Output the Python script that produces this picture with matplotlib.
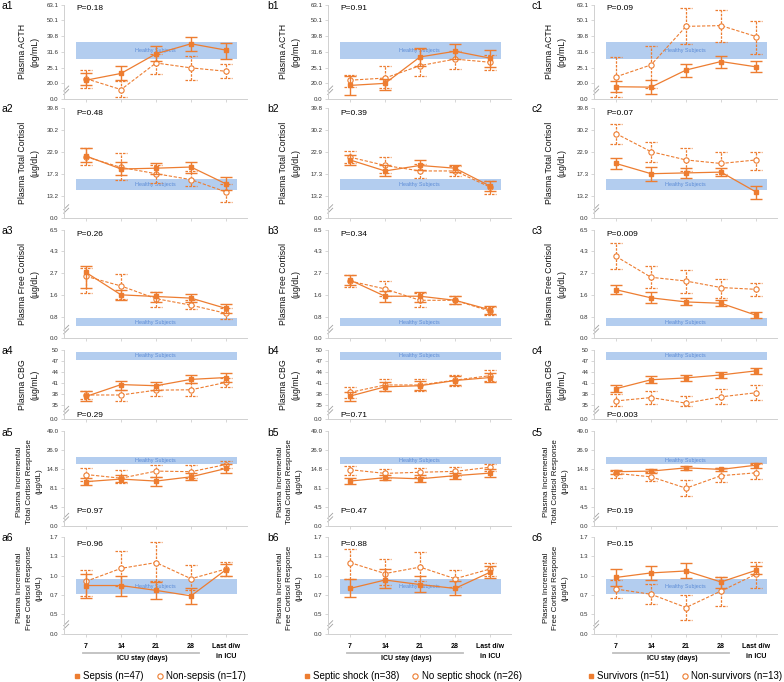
import numpy as np
import matplotlib
matplotlib.use("Agg")
import matplotlib.pyplot as plt
from matplotlib.lines import Line2D

plt.rcParams["font.family"] = ["Liberation Sans", "DejaVu Sans"]

# =========================
# 1. AXES DEFINITIONS
# =========================
days = ["7", "14", "21", "28", "Last d/w\nin ICU"]

row_ticks = [
    [0.0, 20.0, 25.1, 31.6, 39.8, 50.1, 63.1],
    [0.0, 13.2, 17.3, 22.9, 30.2, 39.8],
    [0.0, 0.8, 1.6, 2.7, 4.3, 6.5],
    [0.0, 35, 38, 41, 44, 47, 50],
    [0.0, 4.5, 8.1, 14.8, 26.9, 49.0],
    [0.0, 0.5, 0.7, 1.0, 1.3, 1.7],
]
row_tick_labels = [
    ["0.0", "20.0", "25.1", "31.6", "39.8", "50.1", "63.1"],
    ["0.0", "13.2", "17.3", "22.9", "30.2", "39.8"],
    ["0.0", "0.8", "1.6", "2.7", "4.3", "6.5"],
    ["0.0", "35", "38", "41", "44", "47", "50"],
    ["0.0", "4.5", "8.1", "14.8", "26.9", "49.0"],
    ["0.0", "0.5", "0.7", "1.0", "1.3", "1.7"],
]
row_tick_pos = [
    [0, 1, 2, 3, 4, 5, 6],
    [0, 1, 2, 3, 4, 5],
    [0, 1, 2, 3, 4, 5],
    [0, 1.25, 2.25, 3.25, 4.25, 5.25, 6.25],
    [0, 1, 2, 3, 4, 5],
    [0, 1, 2, 3, 4, 5],
]
row_ylabels = [
    "Plasma ACTH\n(pg/mL)",
    "Plasma Total Cortisol\n(µg/dL)",
    "Plasma Free Cortisol\n(µg/dL)",
    "Plasma CBG\n(µg/mL)",
    "Plasma Incremental\nTotal Cortisol Response\n(µg/dL)",
    "Plasma Incremental\nFree Cortisol Response\n(µg/dL)",
]
healthy_lo = [28.8, 14.2, 0.44, 47.3, 17.9, 0.72]
healthy_hi = [36.7, 16.4, 0.76, 49.5, 22.5, 0.95]

p_values = {
    "a": ["0.18", "0.48", "0.26", "0.29", "0.97", "0.96"],
    "b": ["0.91", "0.39", "0.34", "0.71", "0.47", "0.88"],
    "c": ["0.09", "0.07", "0.009", "0.003", "0.19", "0.15"],
}
group_labels = {
    "a": ["Sepsis (n=47)", "Non-sepsis (n=17)"],
    "b": ["Septic shock (n=38)", "No septic shock (n=26)"],
    "c": ["Survivors (n=51)", "Non-survivors (n=13)"],
}

# =========================
# 2. DATA (mean, upper, lower) - solid group / open group
# =========================
# column a: sepsis vs non-sepsis
a1_s = [21.0, 23.2, 30.8, 35.8, 32.5]
a1_s_up = [23.2, 25.7, 34.6, 39.3, 36.3]
a1_s_dn = [17.3, 21.0, 27.7, 32.3, 28.8]
a1_n = [21.5, 12.0, 27.0, 25.0, 23.9]
a1_n_up = [24.3, 20.7, 30.9, 29.8, 26.6]
a1_n_dn = [13.8, 2.2, 23.0, 21.2, 21.6]

a2_s = [21.8, 18.5, 18.7, 19.0, 15.4]
a2_s_up = [24.0, 20.2, 20.0, 20.2, 16.7]
a2_s_dn = [20.2, 17.0, 17.3, 17.5, 14.2]
a2_n = [21.6, 18.9, 17.3, 16.2, 13.9]
a2_n_up = [24.2, 22.6, 19.5, 18.1, 15.3]
a2_n_dn = [19.4, 16.1, 15.6, 15.1, 9.7]

a3_s = [2.75, 1.60, 1.54, 1.48, 1.10]
a3_s_up = [3.19, 1.84, 1.76, 1.64, 1.28]
a3_s_dn = [1.97, 1.40, 1.34, 1.34, 0.92]
a3_n = [2.54, 2.05, 1.46, 1.22, 0.92]
a3_n_up = [3.07, 2.65, 1.73, 1.40, 1.10]
a3_n_dn = [1.70, 1.46, 1.16, 1.07, 0.71]

a4_s = [37.4, 40.6, 40.3, 42.0, 42.5]
a4_s_up = [39.0, 41.7, 41.4, 43.2, 43.6]
a4_s_dn = [36.3, 39.2, 39.1, 41.0, 41.4]
a4_n = [37.8, 37.8, 39.1, 39.2, 41.2]
a4_n_up = [39.0, 39.2, 40.6, 41.0, 42.5]
a4_n_dn = [36.7, 36.2, 37.4, 37.6, 39.9]

a5_s = [10.4, 11.3, 10.6, 12.1, 15.2]
a5_s_up = [11.8, 12.7, 12.1, 13.5, 18.3]
a5_s_dn = [9.3, 10.1, 8.9, 10.8, 13.6]
a5_n = [12.9, 11.6, 14.1, 13.9, 17.7]
a5_n_up = [15.8, 14.4, 17.1, 17.1, 19.8]
a5_n_dn = [10.6, 9.8, 12.1, 11.6, 15.6]

a6_s = [0.845, 0.845, 0.77, 0.69, 1.09]
a6_s_up = [1.03, 0.99, 0.90, 0.81, 1.18]
a6_s_dn = [0.67, 0.69, 0.66, 0.61, 0.99]
a6_n = [0.91, 1.11, 1.20, 0.95, 1.10]
a6_n_up = [1.09, 1.40, 1.60, 1.17, 1.21]
a6_n_dn = [0.69, 0.83, 0.91, 0.78, 1.00]

# column b: septic shock vs no septic shock
b1_s = [17.3, 19.9, 29.5, 31.9, 29.0]
b1_s_up = [22.3, 21.5, 33.7, 35.8, 32.5]
b1_s_dn = [5.3, 12.0, 25.9, 28.6, 25.2]
b1_n = [21.0, 21.7, 25.9, 28.6, 27.3]
b1_n_up = [22.6, 25.6, 33.3, 32.3, 30.1]
b1_n_dn = [15.6, 14.2, 22.3, 24.5, 24.2]

b2_s = [20.8, 18.0, 19.4, 18.7, 15.0]
b2_s_up = [22.0, 19.6, 20.8, 19.6, 16.0]
b2_s_dn = [19.6, 16.8, 18.2, 17.8, 14.0]
b2_n = [21.5, 19.4, 18.0, 18.0, 14.8]
b2_n_up = [23.0, 21.5, 19.8, 19.2, 16.0]
b2_n_dn = [20.0, 17.6, 16.5, 16.8, 13.5]

b3_s = [2.35, 1.55, 1.55, 1.40, 1.05]
b3_s_up = [2.60, 1.80, 1.75, 1.55, 1.20]
b3_s_dn = [2.10, 1.35, 1.35, 1.25, 0.90]
b3_n = [2.30, 1.90, 1.40, 1.40, 1.00]
b3_n_up = [2.60, 2.30, 1.70, 1.55, 1.15]
b3_n_dn = [2.00, 1.55, 1.15, 1.25, 0.85]

b4_s = [37.5, 40.0, 40.3, 41.7, 42.5]
b4_s_up = [38.7, 41.2, 41.5, 42.9, 43.7]
b4_s_dn = [36.3, 38.8, 39.1, 40.5, 41.3]
b4_n = [38.5, 40.5, 40.5, 41.8, 43.0]
b4_n_up = [40.0, 42.0, 42.0, 43.3, 44.5]
b4_n_dn = [37.0, 39.0, 39.0, 40.3, 41.5]

b5_s = [10.6, 11.8, 11.4, 12.5, 13.4]
b5_s_up = [11.6, 12.8, 12.6, 13.6, 14.8]
b5_s_dn = [9.7, 10.9, 10.3, 11.5, 12.2]
b5_n = [14.6, 13.3, 13.7, 14.0, 16.0]
b5_n_up = [16.5, 15.0, 15.8, 16.0, 18.0]
b5_n_dn = [12.8, 11.8, 11.9, 12.3, 14.2]

b6_s = [0.80, 0.93, 0.86, 0.80, 1.05]
b6_s_up = [0.95, 1.10, 1.00, 0.92, 1.15]
b6_s_dn = [0.68, 0.80, 0.74, 0.70, 0.96]
b6_n = [1.20, 1.03, 1.13, 0.95, 1.10]
b6_n_up = [1.45, 1.25, 1.38, 1.08, 1.20]
b6_n_dn = [0.95, 0.85, 0.92, 0.82, 1.00]

# column c: survivors vs non-survivors
c1_s = [15.6, 15.1, 24.3, 27.6, 25.4]
c1_s_up = [20.9, 21.0, 26.6, 29.8, 27.9]
c1_s_dn = [8.9, 6.7, 22.1, 25.0, 23.6]
c1_n = [22.1, 26.2, 46.2, 46.7, 39.6]
c1_n_up = [29.4, 34.6, 60.1, 58.8, 50.0]
c1_n_dn = [3.1, 14.2, 35.8, 36.6, 30.8]

c2_s = [19.9, 17.3, 17.5, 17.7, 13.9]
c2_s_up = [21.2, 19.0, 18.7, 18.7, 15.0]
c2_s_dn = [18.5, 16.0, 16.5, 16.8, 11.5]
c2_n = [28.9, 22.9, 20.8, 19.9, 20.8]
c2_n_up = [32.8, 26.1, 24.2, 22.8, 22.8]
c2_n_dn = [25.5, 20.4, 18.1, 17.3, 18.2]

c3_s = [1.86, 1.49, 1.34, 1.29, 0.85]
c3_s_up = [2.09, 1.73, 1.48, 1.40, 0.98]
c3_s_dn = [1.65, 1.30, 1.22, 1.18, 0.73]
c3_n = [3.93, 2.49, 2.30, 1.97, 1.88]
c3_n_up = [5.20, 3.19, 2.95, 2.41, 2.20]
c3_n_dn = [2.99, 1.94, 1.68, 1.49, 1.55]

c4_s = [39.5, 41.9, 42.4, 43.2, 44.3]
c4_s_up = [40.5, 42.8, 43.3, 44.1, 45.1]
c4_s_dn = [38.5, 41.0, 41.5, 42.3, 43.5]
c4_n = [36.2, 37.1, 35.6, 37.3, 38.4]
c4_n_up = [38.2, 39.0, 37.6, 39.3, 40.6]
c4_n_dn = [34.4, 35.4, 33.8, 35.5, 36.4]

c5_s = [13.9, 14.1, 15.6, 14.7, 17.3]
c5_s_up = [14.4, 14.9, 16.8, 15.8, 18.8]
c5_s_dn = [13.0, 13.4, 14.4, 14.0, 15.8]
c5_n = [13.3, 12.1, 8.1, 12.5, 13.5]
c5_n_up = [14.1, 13.9, 11.0, 15.2, 18.3]
c5_n_dn = [11.8, 10.6, 6.6, 10.2, 11.2]

c6_s = [0.97, 1.04, 1.07, 0.90, 1.08]
c6_s_up = [1.10, 1.15, 1.20, 0.97, 1.14]
c6_s_dn = [0.845, 0.93, 0.96, 0.81, 1.03]
c6_n = [0.79, 0.71, 0.57, 0.76, 1.02]
c6_n_up = [0.93, 0.87, 0.70, 0.97, 1.21]
c6_n_dn = [0.67, 0.61, 0.36, 0.59, 0.81]

panels = {
    "a": [(a1_s, a1_s_up, a1_s_dn, a1_n, a1_n_up, a1_n_dn),
          (a2_s, a2_s_up, a2_s_dn, a2_n, a2_n_up, a2_n_dn),
          (a3_s, a3_s_up, a3_s_dn, a3_n, a3_n_up, a3_n_dn),
          (a4_s, a4_s_up, a4_s_dn, a4_n, a4_n_up, a4_n_dn),
          (a5_s, a5_s_up, a5_s_dn, a5_n, a5_n_up, a5_n_dn),
          (a6_s, a6_s_up, a6_s_dn, a6_n, a6_n_up, a6_n_dn)],
    "b": [(b1_s, b1_s_up, b1_s_dn, b1_n, b1_n_up, b1_n_dn),
          (b2_s, b2_s_up, b2_s_dn, b2_n, b2_n_up, b2_n_dn),
          (b3_s, b3_s_up, b3_s_dn, b3_n, b3_n_up, b3_n_dn),
          (b4_s, b4_s_up, b4_s_dn, b4_n, b4_n_up, b4_n_dn),
          (b5_s, b5_s_up, b5_s_dn, b5_n, b5_n_up, b5_n_dn),
          (b6_s, b6_s_up, b6_s_dn, b6_n, b6_n_up, b6_n_dn)],
    "c": [(c1_s, c1_s_up, c1_s_dn, c1_n, c1_n_up, c1_n_dn),
          (c2_s, c2_s_up, c2_s_dn, c2_n, c2_n_up, c2_n_dn),
          (c3_s, c3_s_up, c3_s_dn, c3_n, c3_n_up, c3_n_dn),
          (c4_s, c4_s_up, c4_s_dn, c4_n, c4_n_up, c4_n_dn),
          (c5_s, c5_s_up, c5_s_dn, c5_n, c5_n_up, c5_n_dn),
          (c6_s, c6_s_up, c6_s_dn, c6_n, c6_n_up, c6_n_dn)],
}

# =========================
# 3. LAYOUT (pixels)
# =========================
W, H = 784, 682
col_left = {"a": 64, "b": 328, "c": 594}
col_w = 183
col_label_x = {"a": 2, "b": 267, "c": 532}
col_ylabel_x = {"a": -0.19, "b": -0.21, "c": -0.21}
col_legend_x = {"a": 160, "b": 413, "c": 685}
row_top = [4.7, 107.7, 229.7, 349.7, 431.0, 536.7]
row_bot = [99.0, 217.7, 338.3, 419.3, 526.3, 633.7]
p_y = [0.955, 0.945, 0.96, 0.05, 0.16, 0.915]
ylabel_size = [6.3, 6.3, 6.3, 6.3, 5.8, 5.8]
ylabel_y = [0.5, 0.5, 0.5, 0.5, 0.47, 0.47]

ORANGE = "#ED7D31"
BAND = "#b3cdef"
BAND_TEXT = "#5b8bd6"
GRID = "#d0d0d0"

fig = plt.figure(figsize=(W / 100, H / 100), dpi=100, facecolor="white")

x = np.arange(len(days))

for col in ["a", "b", "c"]:
    for r in range(6):
        s, s_up, s_dn, n, n_up, n_dn = panels[col][r]
        ticks = row_ticks[r]
        pos = row_tick_pos[r]
        h_px = row_bot[r] - row_top[r]
        ax = fig.add_axes([col_left[col] / W, 1 - row_bot[r] / H,
                           col_w / W, h_px / H])
        ax.set_yscale("function", functions=(
            lambda v, t=ticks, p=pos: np.interp(v, t, p),
            lambda q, t=ticks, p=pos: np.interp(q, p, t)))
        ax.set_xlim(-0.63, 4.6)
        ax.set_ylim(ticks[0], ticks[-1])

        # healthy subjects band
        ax.axhspan(healthy_lo[r], healthy_hi[r], xmin=0.067, xmax=0.948,
                   color=BAND, lw=0, zorder=0)
        mid = np.interp((np.interp(healthy_lo[r], ticks, pos) +
                         np.interp(healthy_hi[r], ticks, pos)) / 2, pos, ticks)
        ax.text(1.98, mid, "Healthy Subjects", fontsize=3.9, color=BAND_TEXT,
                ha="center", va="center", zorder=1)

        # open group (dashed)
        ax.vlines(x, n_dn, n_up, colors=ORANGE, linestyles=(0, (2, 1)),
                  lw=0.9, zorder=2)
        ax.hlines(n_up, x - 0.17, x + 0.17, colors=ORANGE,
                  linestyles=(0, (2, 1)), lw=0.9, zorder=2)
        ax.hlines(n_dn, x - 0.17, x + 0.17, colors=ORANGE,
                  linestyles=(0, (2, 1)), lw=0.9, zorder=2)
        ax.plot(x, n, ls=(0, (3, 1.5)), color=ORANGE, lw=0.8, marker="o",
                mfc="white", mec=ORANGE, mew=0.8, ms=3.8, zorder=3)

        # solid group
        ax.vlines(x, s_dn, s_up, colors=ORANGE, lw=1.0, zorder=4)
        ax.hlines(s_up, x - 0.17, x + 0.17, colors=ORANGE, lw=1.0, zorder=4)
        ax.hlines(s_dn, x - 0.17, x + 0.17, colors=ORANGE, lw=1.0, zorder=4)
        ax.plot(x, s, ls="-", color=ORANGE, lw=0.9, marker="s",
                mfc=ORANGE, mec=ORANGE, ms=3.4, zorder=5)

        # axes styling
        for sp in ["top", "right"]:
            ax.spines[sp].set_visible(False)
        for sp in ["left", "bottom"]:
            ax.spines[sp].set_color(GRID)
            ax.spines[sp].set_linewidth(0.7)
        ax.set_yticks(ticks)
        ax.set_yticklabels(row_tick_labels[r])
        ax.set_xticks(x)
        ax.tick_params(axis="y", labelsize=4.4, length=2, width=0.6,
                       color=GRID, pad=2, labelcolor="#333333")
        ax.tick_params(axis="x", length=2, width=0.6, color=GRID)
        if r == 5:
            ax.set_xticklabels(days, fontsize=5, fontweight="bold",
                               linespacing=1.5)
            ax.tick_params(axis="x", pad=5)
            ax.plot([-0.09, 3.23], [-0.2, -0.2], color="#bfbfbf", lw=1.3,
                    transform=ax.get_xaxis_transform(), clip_on=False)
            ax.text(1.6, -0.255, "ICU stay (days)", fontsize=5,
                    fontweight="bold", ha="center", va="center",
                    transform=ax.get_xaxis_transform())
        else:
            ax.set_xticklabels([])

        # axis break marks
        dx, dy = 2.5 / col_w, 2.5 / h_px
        yb = 7 / h_px
        for off in (0, 3.5 / h_px):
            ax.plot([0.012 - dx, 0.012 + dx], [yb + off - dy, yb + off + dy],
                    color="#a0a0a0", lw=0.6, transform=ax.transAxes,
                    clip_on=False)

        ax.set_ylabel(row_ylabels[r], fontsize=ylabel_size[r], linespacing=1.5,
                      va="center", color="#111111")
        ax.yaxis.set_label_coords(col_ylabel_x[col], ylabel_y[r])

        ax.text(0.07, p_y[r], "P=" + p_values[col][r], fontsize=6,
                transform=ax.transAxes, ha="left", va="center")

        fig.text(col_label_x[col] / W, 1 - (row_top[r] + 1.5) / H,
                 f"{col}{r + 1}", fontsize=7.5, ha="left", va="center")

    handles = [Line2D([], [], ls="none", marker="s", ms=3.4, mfc=ORANGE,
                      mec=ORANGE),
               Line2D([], [], ls="none", marker="o", ms=3.8, mfc="white",
                      mec=ORANGE, mew=0.8)]
    fig.legend(handles, group_labels[col], loc="center",
               bbox_to_anchor=(col_legend_x[col] / W, 1 - 676 / H), ncol=2,
               frameon=False, fontsize=7, handlelength=0.6,
               handletextpad=0.35, columnspacing=1.3, borderaxespad=0,
               borderpad=0)

fig.savefig("out.png", dpi=100, facecolor="white")
